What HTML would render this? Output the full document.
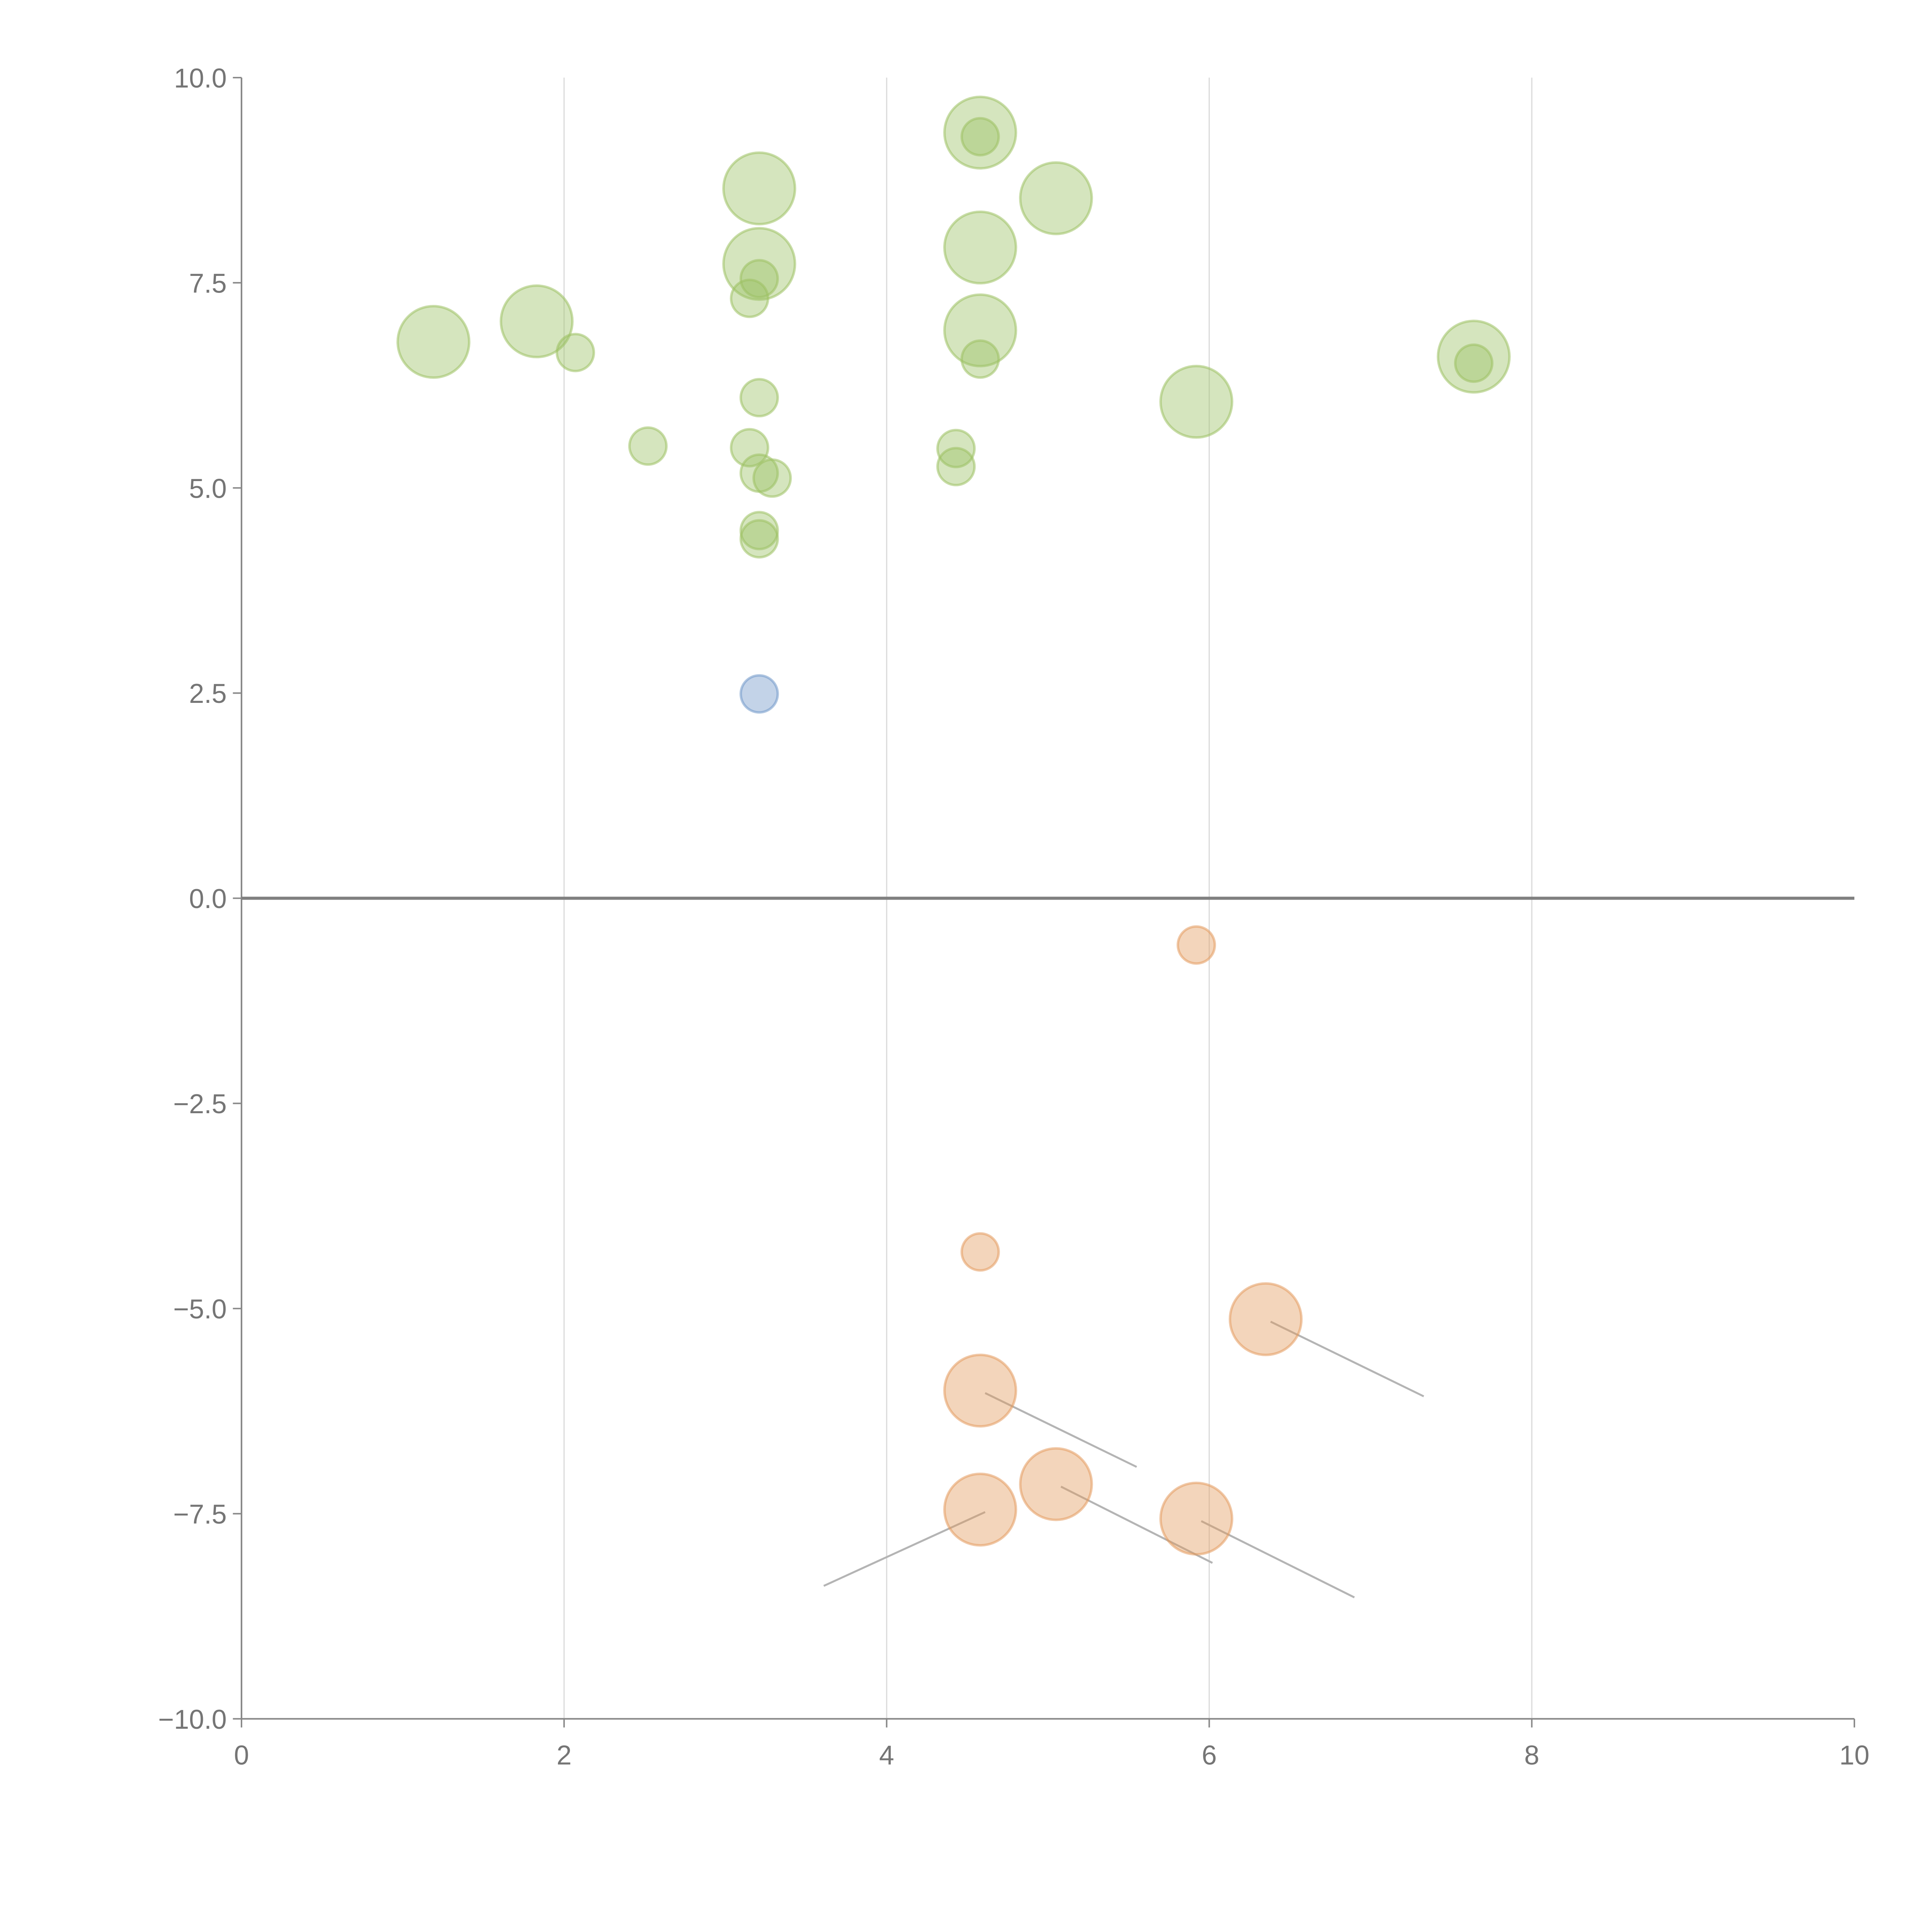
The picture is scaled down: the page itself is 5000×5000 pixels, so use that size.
<!DOCTYPE html>
<html><head><meta charset="utf-8"><style>
html,body{margin:0;padding:0;background:#fff}
svg{display:block}
text{font-family:"Liberation Sans",sans-serif;fill:#757575}
</style></head><body>
<svg id="chart" width="5000" height="5000" viewBox="0 0 1568 1568" xmlns="http://www.w3.org/2000/svg">
<g id="grid"></g>
<g id="axes"></g>
<g id="leaders"></g>
<g id="marks"></g>
</svg>
<script>
const xTicks=[0,2,4,6,8,10];
const yTicks=[-10,-7.5,-5,-2.5,0,2.5,5,7.5,10];
const yTickLabels=["\u221210.0","\u22127.5","\u22125.0","\u22122.5","0.0","2.5","5.0","7.5","10.0"];
const greenX=[1.19,1.83,2.07,2.52,3.21,3.21,3.21,3.15,3.21,3.15,3.21,3.29,3.21,3.21,4.58,4.58,5.05,4.58,4.58,4.58,4.43,4.43,5.92,7.64,7.64];
const greenY=[6.78,7.03,6.65,5.51,8.65,7.73,7.55,7.31,6.10,5.49,5.18,5.12,4.48,4.38,9.33,9.28,8.53,7.93,6.92,6.57,5.48,5.26,6.05,6.60,6.52];
const greenSize=[2,2,1,1,2,2,1,1,1,1,1,1,1,1,2,1,2,2,2,1,1,1,2,2,1];
const blueX=[3.21];
const blueY=[2.49];
const blueSize=[1];
const orangeX=[5.92,4.58,6.35,4.58,5.05,4.58,5.92];
const orangeY=[-0.57,-4.31,-5.13,-6.00,-7.14,-7.45,-7.56];
const orangeSize=[1,1,2,2,2,2,2];
const leaderFromX=[6.35,4.58,5.05,4.58,5.92];
const leaderFromY=[-5.13,-6.00,-7.14,-7.45,-7.56];
const leaderToX=[7.33,5.55,6.02,3.61,6.90];
const leaderToY=[-6.07,-6.93,-8.10,-8.38,-8.52];

const X0=196,X1=1505,Y0=1395,Y1=63;
const sx=v=>X0+(v-0)/(10-0)*(X1-X0);
const sy=v=>Y0-(v+10)/20*(Y0-Y1);
const rad=s=>s===2?29:15;
const NS="http://www.w3.org/2000/svg";
function mk(tag,attrs,parent){const e=document.createElementNS(NS,tag);for(const k in attrs)e.setAttribute(k,attrs[k]);parent.appendChild(e);return e;}
const grid=document.getElementById('grid'),axes=document.getElementById('axes'),leaders=document.getElementById('leaders'),marks=document.getElementById('marks');

xTicks.forEach(t=>{
  if(t>0&&t<10){const g=mk('line',{x1:sx(t),x2:sx(t),y1:Y1,y2:Y0,stroke:'#dcdcdc','stroke-width':1},grid);
  
  }
  const tk=mk('line',{x1:sx(t),x2:sx(t),y1:Y0,y2:Y0+7,stroke:'#888','stroke-width':1.2},axes);
  
  
  const lb=mk('text',{x:sx(t),y:Y0+37,'text-anchor':'middle','font-size':22},axes);
  lb.textContent=t;
  
  
});
yTicks.forEach((t,i)=>{
  const tk=mk('line',{x1:X0-7,x2:X0,y1:sy(t),y2:sy(t),stroke:'#888','stroke-width':1.2},axes);
  
  
  const lb=mk('text',{x:X0-12,y:sy(t)+8,'text-anchor':'end','font-size':22},axes);
  lb.textContent=yTickLabels[i];
  
  
});
const ya=mk('line',{x1:X0,x2:X0,y1:Y1,y2:Y0,stroke:'#888','stroke-width':1.3},axes);


const xa=mk('line',{x1:X0,x2:X1,y1:Y0,y2:Y0,stroke:'#888','stroke-width':1.3},axes);


const zl=mk('line',{x1:X0,x2:X1,y1:sy(0),y2:sy(0),stroke:'#808080','stroke-width':2.5},axes);



leaderFromX.forEach((v,i)=>{
  const l=mk('line',{x1:sx(v)+4,y1:sy(leaderFromY[i])+2,x2:sx(leaderToX[i]),y2:sy(leaderToY[i]),stroke:'#b4b4b4','stroke-width':1.6},leaders);
  
  
});
function bubbles(xs,ys,ss,fill,stroke,name){
  xs.forEach((v,i)=>{
    const c=mk('circle',{cx:sx(v),cy:sy(ys[i]),r:rad(ss[i]),fill:fill,'fill-opacity':0.42,stroke:stroke,'stroke-opacity':0.55,'stroke-width':2},marks);
    
    
  });
}
bubbles(greenX,greenY,greenSize,'#9cc163','#9cc163','green-bubble');
bubbles(blueX,blueY,blueSize,'#6f97c9','#6f97c9','blue-bubble');
bubbles(orangeX,orangeY,orangeSize,'#e39a5e','#e39a5e','orange-bubble');
</script>
</body></html>
